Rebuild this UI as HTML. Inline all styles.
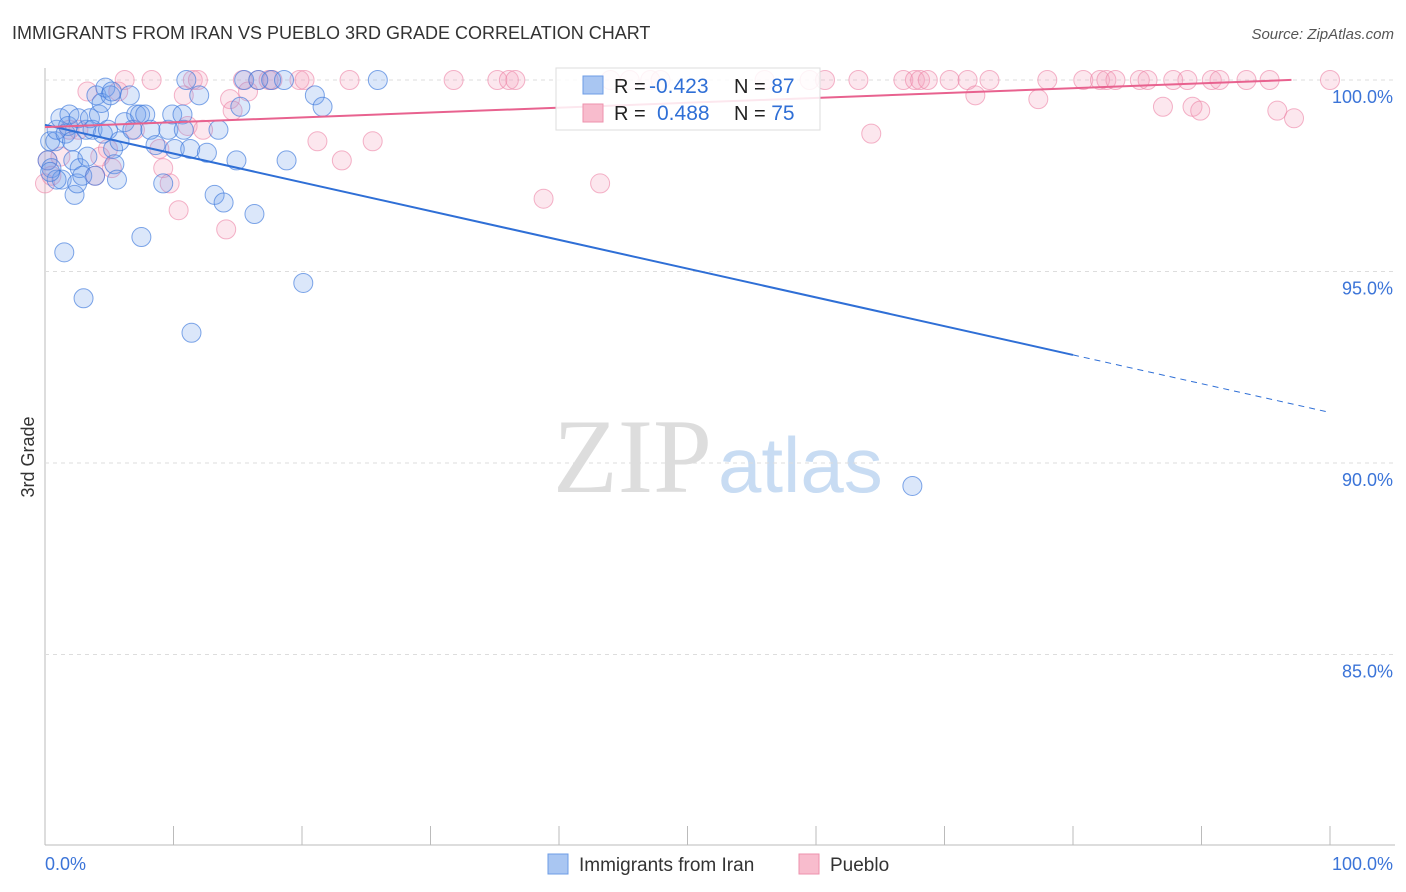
<!DOCTYPE html>
<html><head><meta charset="utf-8"><style>
body{margin:0;background:#fff;font-family:"Liberation Sans",sans-serif;}
#wrap{position:relative;width:1406px;height:892px;overflow:hidden;}
</style></head><body>
<div id="wrap">
<svg id="svg" width="1406" height="892" xmlns="http://www.w3.org/2000/svg">
<text x="12" y="39" font-size="18" fill="#333">IMMIGRANTS FROM IRAN VS PUEBLO 3RD GRADE CORRELATION CHART</text>
<text x="1394" y="39" font-size="15" fill="#555" font-style="italic" text-anchor="end">Source: ZipAtlas.com</text>
<text x="34" y="457" font-size="18" fill="#333" transform="rotate(-90 34 457)" text-anchor="middle">3rd Grade</text>
<g>
<text x="553" y="492" font-size="106" fill="#ddd" font-family="Liberation Serif,serif">ZIP</text>
<text x="718" y="492" font-size="78" fill="#c8dcf3">atlas</text>
</g>
<g id="grid"></g><g id="pts"></g><g id="lines"></g>
<g>
<rect x="556" y="68" width="264" height="62" fill="#fff" fill-opacity="0.85" stroke="#ddd"/>
<rect x="583" y="76" width="20" height="18" fill="#a9c6f2" stroke="#6d9ce6"/>
<rect x="583" y="104" width="20" height="18" fill="#f8bccd" stroke="#ee92ad"/>
<text x="614" y="93" font-size="20" fill="#222">R = <tspan x="649" fill="#2f6fd6" font-size="21">-0.423</tspan><tspan x="734">N = </tspan><tspan fill="#2f6fd6" font-size="21">87</tspan></text>
<text x="614" y="120" font-size="20" fill="#222">R = <tspan x="657" fill="#2f6fd6" font-size="21">0.488</tspan><tspan x="734">N = </tspan><tspan fill="#2f6fd6" font-size="21">75</tspan></text>
</g>
<g>
<rect x="548" y="854" width="20" height="20" fill="#a9c6f2" stroke="#6d9ce6"/>
<text x="579" y="871" font-size="19" fill="#333">Immigrants from Iran</text>
<rect x="799" y="854" width="20" height="20" fill="#f8bccd" stroke="#ee92ad"/>
<text x="830" y="871" font-size="19" fill="#333">Pueblo</text>
</g>
</svg>
</div>
<script>
const yTicks=[100,95,90,85];
const yTickLabels=["100.0%","95.0%","90.0%","85.0%"];
const xTickLabels=["0.0%","100.0%"];
const iranX=[0.2,0.4,0.5,0.8,0.9,1.2,1.3,1.6,1.8,1.9,2.1,2.2,2.3,2.5,2.6,2.7,2.9,3.0,3.2,3.3,3.5,3.7,3.9,4.0,4.2,4.4,4.5,4.7,4.9,5.1,5.2,5.3,5.4,5.6,5.8,6.2,6.6,6.8,7.1,7.4,7.5,7.8,8.2,8.6,9.2,9.6,9.9,10.1,10.7,10.8,11.0,11.3,11.4,12.0,12.6,13.2,13.5,13.9,14.9,15.2,15.5,16.3,16.6,17.6,18.6,18.8,20.1,21.0,21.6,25.9,67.5,1.5,0.9,0.4];
const iranY=[97.9,98.4,97.7,98.4,98.7,99.0,97.4,98.6,98.8,99.1,98.4,97.9,97.0,97.3,99.0,97.7,97.5,94.3,98.7,98.0,99.0,98.7,97.5,99.6,99.1,99.4,98.6,99.8,98.7,99.6,99.7,98.2,97.8,97.4,98.4,98.9,99.6,98.7,99.1,99.1,95.9,99.1,98.7,98.3,97.3,98.7,99.1,98.2,99.1,98.7,100,98.2,93.4,99.6,98.1,97.0,98.7,96.8,97.9,99.3,100,96.5,100,100,100,97.9,94.7,99.6,99.3,100,89.4,95.5,97.4,97.6];
const puebloX=[0,0.2,0.5,1.2,1.9,2.6,3.3,3.9,4.3,4.9,5.2,5.7,6.2,7.0,8.3,8.9,9.2,9.7,10.4,10.8,11.1,11.5,11.9,12.3,14.1,14.4,14.6,15.4,15.8,16.6,17.4,17.7,19.8,20.2,21.2,23.1,23.7,25.5,31.8,35.2,36.1,36.6,38.8,43.2,44.0,45.5,47.1,47.9,56.0,59.5,60.7,63.3,64.3,66.8,67.7,68.1,68.7,70.4,71.8,72.4,73.5,77.3,78.0,80.8,82.1,82.6,83.3,85.2,85.8,87.0,87.8,88.9,89.3,89.9,90.8,91.4,93.5,95.3,95.9,97.2,100];
const puebloY=[97.3,97.9,97.5,98.0,98.7,98.7,99.7,97.5,98.0,98.2,97.7,99.7,100,98.7,100,98.2,97.7,97.3,96.6,99.6,98.8,100,100,98.7,96.1,99.5,99.2,100,99.7,100,100,100,100,100,98.4,97.9,100,98.4,100,100,100,100,96.9,97.3,100,100,100,100,100,100,100,100,98.6,100,100,100,100,100,100,99.6,100,99.5,100,100,100,100,100,100,100,99.3,100,100,99.3,99.2,100,100,100,100,99.2,99.0,100];
const iranFit=[98.83,-0.0751];
const puebloFit=[98.77,0.0127];

const NS="http://www.w3.org/2000/svg";
const sx=v=>45+v*12.85;
const sy=v=>80+(100-v)*38.3;
function mk(tag,attrs,parent){const e=document.createElementNS(NS,tag);for(const k in attrs)e.setAttribute(k,attrs[k]);parent.appendChild(e);return e;}
const grid=document.getElementById('grid'),pts=document.getElementById('pts'),lines=document.getElementById('lines');
mk('line',{x1:45,y1:68,x2:45,y2:845,stroke:'#bbb'},grid);
mk('line',{x1:45,y1:845,x2:1395,y2:845,stroke:'#bbb'},grid);
yTicks.forEach((t,i)=>{
  const l=mk('line',{x1:45,y1:sy(t),x2:1395,y2:sy(t),stroke:'#ddd','stroke-dasharray':'4,4'},grid);
  
  
  const tx=mk('text',{x:1393,y:sy(t)+23,'font-size':18,fill:'#3b74d8','text-anchor':'end'},grid);
  tx.textContent=yTickLabels[i];
  
  
});
for(let i=0;i<=10;i++){
  const tk=mk('line',{x1:sx(i*10),y1:826,x2:sx(i*10),y2:845,stroke:'#bbb'},grid);
  
  
}
[[0,'start',45],[100,'end',1393]].forEach((d,i)=>{
  const tx=mk('text',{x:d[2],y:870,'font-size':18,fill:'#3b74d8','text-anchor':d[1]},grid);
  tx.textContent=xTickLabels[i];
  
  
});
puebloX.forEach((x,i)=>{
  const c=mk('circle',{cx:sx(x),cy:sy(puebloY[i]),r:9.5,fill:'rgba(244,160,188,0.25)',stroke:'rgba(236,130,165,0.6)','stroke-width':1},pts);
  
  
});
iranX.forEach((x,i)=>{
  const c=mk('circle',{cx:sx(x),cy:sy(iranY[i]),r:9.5,fill:'rgba(110,160,235,0.25)',stroke:'rgba(60,120,220,0.65)','stroke-width':1},pts);
  
  
});
const f=(fit,x)=>fit[0]+fit[1]*x;
let l1=mk('line',{x1:sx(0),y1:sy(f(iranFit,0)),x2:sx(80),y2:sy(f(iranFit,80)),stroke:'#2f6fd6','stroke-width':2},lines);


let l2=mk('line',{x1:sx(80),y1:sy(f(iranFit,80)),x2:sx(100),y2:sy(f(iranFit,100)),stroke:'#2f6fd6','stroke-width':1,'stroke-dasharray':'6,5'},lines);


let l3=mk('line',{x1:sx(0),y1:sy(f(puebloFit,0)),x2:sx(97),y2:sy(f(puebloFit,97)),stroke:'#e8628f','stroke-width':2},lines);


</script>
</body></html>
